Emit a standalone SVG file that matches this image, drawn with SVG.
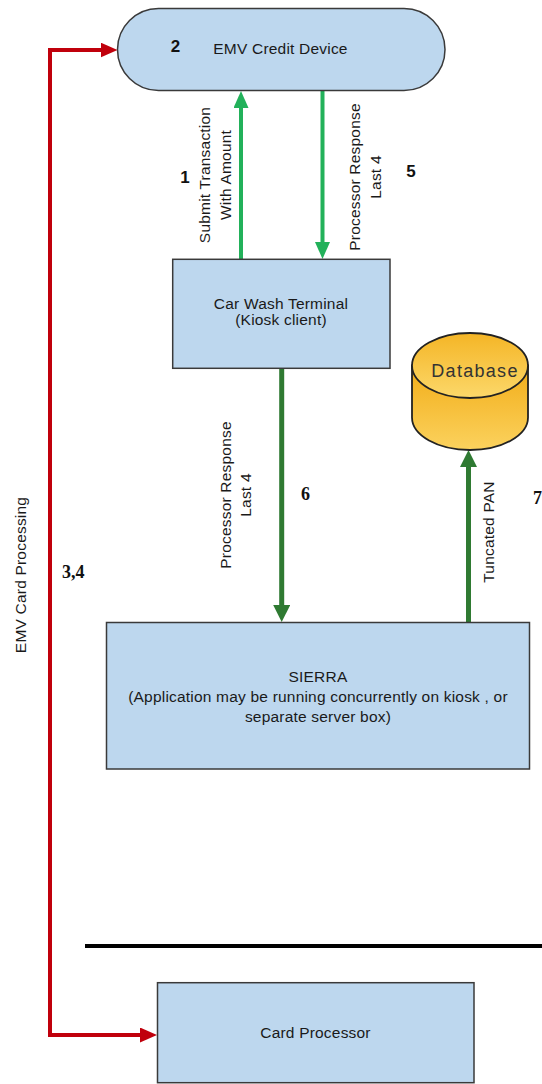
<svg xmlns="http://www.w3.org/2000/svg" width="542" height="1084" viewBox="0 0 542 1084">
  <style>
    .box { fill: #bdd7ee; stroke: #3a3a3a; stroke-width: 1.5; }
    .lbl { font-family: "Liberation Sans", Arial, sans-serif; font-size: 15.5px; letter-spacing: 0.2px; fill: #1a1a1a; text-anchor: middle; }
    .num { font-family: "Liberation Sans", Arial, sans-serif; font-size: 17px; font-weight: bold; fill: #111; text-anchor: middle; }
    .nums { font-family: "Liberation Serif", "Times New Roman", serif; font-size: 18px; font-weight: bold; fill: #111; }
    .red { fill: none; stroke: #c0000c; stroke-width: 4; }
    .glt { fill: none; stroke: #22b15a; stroke-width: 4; }
    .gdk { fill: none; stroke: #2f7a32; stroke-width: 5; }
  </style>
  <defs>
    <marker id="ahRed" markerUnits="userSpaceOnUse" markerWidth="17" markerHeight="15" refX="2" refY="7.5" orient="auto-start-reverse">
      <path d="M0,0 L17,7.5 L0,15 z" fill="#c0000c"/>
    </marker>
    <marker id="ahGl" markerUnits="userSpaceOnUse" markerWidth="17" markerHeight="15" refX="2" refY="7.5" orient="auto">
      <path d="M0,0 L17,7.5 L0,15 z" fill="#22b15a"/>
    </marker>
    <marker id="ahGd" markerUnits="userSpaceOnUse" markerWidth="17" markerHeight="17" refX="2" refY="8.5" orient="auto">
      <path d="M0,0 L17,8.5 L0,17 z" fill="#2f7a32"/>
    </marker>
    <linearGradient id="cylBody" x1="0" y1="0" x2="0" y2="1">
      <stop offset="0" stop-color="#f2ad18"/>
      <stop offset="1" stop-color="#fbd25e"/>
    </linearGradient>
    <linearGradient id="cylTop" x1="0" y1="0" x2="0" y2="1">
      <stop offset="0" stop-color="#f4b526"/>
      <stop offset="1" stop-color="#fcd86a"/>
    </linearGradient>
  </defs>

  <g id="connectors">
    <path class="red" d="M102.5,50 H50 V1035 H142" marker-start="url(#ahRed)" marker-end="url(#ahRed)"/>
    <path class="glt" d="M241,259 V106" marker-end="url(#ahGl)"/>
    <path class="glt" d="M322.5,91 V244" marker-end="url(#ahGl)"/>
    <path class="gdk" d="M281.7,368.3 V607" marker-end="url(#ahGd)"/>
    <path class="gdk" d="M468.5,622 V465" marker-end="url(#ahGd)"/>
    <path d="M85,946 H542" stroke="#000" stroke-width="4" fill="none"/>
  </g>

  <g id="emv-device">
    <rect class="box" x="117.5" y="8.5" width="327.5" height="82" rx="41" ry="41"/>
    <text class="num" x="175.6" y="52">2</text>
    <text class="lbl" x="280.5" y="54">EMV Credit Device</text>
  </g>

  <g id="terminal">
    <rect class="box" x="172.7" y="259.3" width="217.3" height="109"/>
    <text class="lbl" x="281" y="309">Car Wash Terminal</text>
    <text class="lbl" x="281" y="325">(Kiosk client)</text>
  </g>

  <g id="database">
    <path d="M412,365.5 V417.5 A58,32.5 0 0 0 528,417.5 V365.5 Z" fill="url(#cylBody)" stroke="#222" stroke-width="1.8"/>
    <ellipse cx="470" cy="365.5" rx="58" ry="32.5" fill="url(#cylTop)" stroke="#222" stroke-width="1.8"/>
    <text x="475" y="377" font-family="Liberation Sans, Arial, sans-serif" font-size="18" letter-spacing="1.3" fill="#333" text-anchor="middle">Database</text>
  </g>

  <g id="sierra">
    <rect class="box" x="106.5" y="622.5" width="423" height="146.5"/>
    <text class="lbl" x="318" y="682">SIERRA</text>
    <text class="lbl" x="318" y="701.5">(Application may be running concurrently on kiosk , or</text>
    <text class="lbl" x="318" y="721.5">separate server box)</text>
  </g>

  <g id="card-processor">
    <rect class="box" x="157.5" y="982.7" width="316.5" height="100"/>
    <text class="lbl" x="315.5" y="1038">Card Processor</text>
  </g>

  <g id="labels">
    <text class="lbl" transform="translate(0,175) rotate(-90)"><tspan x="0" y="209.5">Submit Transaction</tspan><tspan x="0" y="230.5">With Amount</tspan></text>
    <text class="num" x="185" y="183">1</text>
    <text class="lbl" transform="translate(0,177) rotate(-90)"><tspan x="0" y="359.5">Processor Response</tspan><tspan x="0" y="380.5">Last 4</tspan></text>
    <text class="num" x="411" y="177">5</text>
    <text class="lbl" transform="translate(0,495) rotate(-90)"><tspan x="0" y="230.5">Processor Response</tspan><tspan x="0" y="250.5">Last 4</tspan></text>
    <text class="nums" x="301" y="500">6</text>
    <text class="lbl" transform="translate(0,532) rotate(-90)"><tspan x="0" y="493.5">Tuncated PAN</tspan></text>
    <text class="nums" x="533" y="504">7</text>
    <text class="lbl" transform="translate(0,575) rotate(-90)"><tspan x="0" y="25.5">EMV Card Processing</tspan></text>
    <text class="nums" x="62" y="578">3,4</text>
  </g>
</svg>
